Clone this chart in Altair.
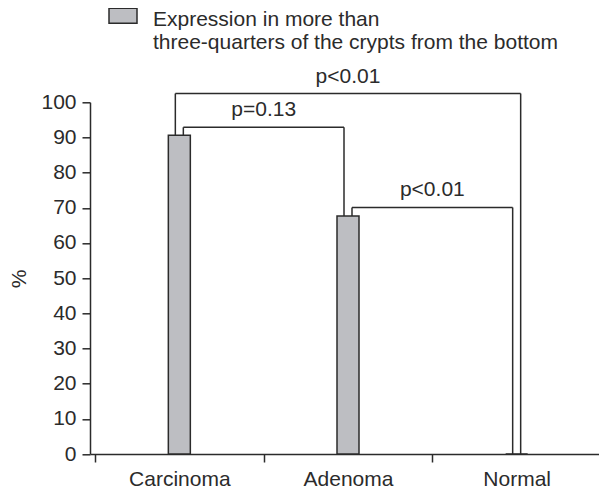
import altair as alt
import pandas as pd

# ---- data ----
categories = ["Carcinoma", "Adenoma", "Normal"]
values = [90.6, 67.7, 0.0]
series_label = "Expression in more than\nthree-quarters of the crypts from the bottom"

bracket_left = ["Carcinoma", "Carcinoma", "Adenoma"]
bracket_right = ["Normal", "Adenoma", "Normal"]
bracket_height = [102.5, 92.9, 70.1]
bracket_text = ["p<0.01", "p=0.13", "p<0.01"]

y_ticks = list(range(0, 101, 10))

# ---- style ----
INK = "#2b2b2b"
GRAY = "#bdbec2"
FONT = "Liberation Sans"
FS = 21
OFF = 4  # pixel offset of bracket legs from the category centre
VIEW_W = 509      # visible plot width (page must fit 591px)
AXIS_W = 516      # full axis length (last boundary tick falls at page edge)

pos = {c: i + 0.5 for i, c in enumerate(categories)}
val = dict(zip(categories, values))

bars_df = pd.DataFrame({
    "cat": categories,
    "pos": [pos[c] for c in categories],
    "value": values,
    "series": [series_label] * len(categories),
})

br_rows, leg_rows = [], []
for l, r, h, t in zip(bracket_left, bracket_right, bracket_height, bracket_text):
    outer = abs(categories.index(r) - categories.index(l)) > 1
    br_rows.append({"l": pos[l], "r": pos[r], "mid": (pos[l] + pos[r]) / 2,
                    "h": h, "text": t, "outer": outer})
    leg_rows.append({"pos": pos[l], "y1": val[l], "y2": h, "side": -1 if outer else 1})
    leg_rows.append({"pos": pos[r], "y1": val[r], "y2": h, "side": 1 if outer else -1})
br_df = pd.DataFrame(br_rows)
leg_df = pd.DataFrame(leg_rows)

x_scale = alt.Scale(domain=[0, len(categories)], range=[0, AXIS_W], nice=False, zero=False)
y_scale = alt.Scale(domain=[0, 100], nice=False)

names_js = "[" + ",".join("'" + c + "'" for c in categories) + "]"
x_vals = sorted(set([i for i in range(len(categories) + 1)] + [p for p in pos.values()]))
x_axis = alt.Axis(
    values=x_vals,
    labelExpr="datum.value % 1 == 0.5 ? " + names_js + "[floor(datum.value)] : ''",
    tickOpacity={"condition": {"test": "datum.value % 1 == 0", "value": 1}, "value": 0},
    tickSize=8, tickWidth=1.5, tickColor=INK,
    domainColor=INK, domainWidth=1.5,
    labelFont=FONT, labelFontSize=FS, labelColor=INK, labelPadding=6,
    labelFlush=False, labelOverlap=False, grid=False, title=None,
)
y_axis = alt.Axis(
    values=y_ticks, tickSize=8, tickWidth=1.5, tickColor=INK,
    domainColor=INK, domainWidth=1.5,
    labelFont=FONT, labelFontSize=FS, labelColor=INK, labelPadding=6,
    labelOverlap=False, grid=False,
    title="%", titleFont=FONT, titleFontSize=FS, titleFontWeight="normal",
    titleColor=INK, titleX=-71, titleY=176, titleAngle=270,
    titleAlign="center", titleBaseline="middle",
)

legend = alt.Legend(
    title=None, orient="none", legendX=18, legendY=-97, padding=0,
    symbolType="M-1,-0.857H1V0.214H-1Z", symbolSize=784,
    symbolStrokeColor=INK, symbolStrokeWidth=1.5, symbolOpacity=1,
    labelFont=FONT, labelFontSize=FS, labelColor=INK, labelLimit=0,
    labelOffset=15, labelExpr="split(datum.label, '\\n')",
)

bars = alt.Chart(bars_df).mark_bar(size=22, stroke=INK, strokeWidth=1.5, opacity=1).encode(
    x=alt.X("pos:Q", scale=x_scale, axis=x_axis),
    y=alt.Y("value:Q", scale=y_scale, axis=y_axis),
    fill=alt.Fill("series:N", scale=alt.Scale(range=[GRAY]), legend=legend),
)

legs_left = alt.Chart(leg_df).transform_filter("datum.side < 0").mark_rule(
    xOffset=-OFF, color=INK, strokeWidth=1.5).encode(
    x=alt.X("pos:Q", scale=x_scale, axis=x_axis),
    y=alt.Y("y1:Q", scale=y_scale, axis=y_axis), y2="y2:Q")
legs_right = alt.Chart(leg_df).transform_filter("datum.side > 0").mark_rule(
    xOffset=OFF, color=INK, strokeWidth=1.5).encode(
    x=alt.X("pos:Q", scale=x_scale, axis=x_axis),
    y=alt.Y("y1:Q", scale=y_scale, axis=y_axis), y2="y2:Q")

tops_outer = alt.Chart(br_df).transform_filter("datum.outer").mark_rule(
    xOffset=-OFF, x2Offset=OFF, color=INK, strokeWidth=1.5).encode(
    x=alt.X("l:Q", scale=x_scale, axis=x_axis), x2="r:Q",
    y=alt.Y("h:Q", scale=y_scale, axis=y_axis))
tops_inner = alt.Chart(br_df).transform_filter("!datum.outer").mark_rule(
    xOffset=OFF, x2Offset=-OFF, color=INK, strokeWidth=1.5).encode(
    x=alt.X("l:Q", scale=x_scale, axis=x_axis), x2="r:Q",
    y=alt.Y("h:Q", scale=y_scale, axis=y_axis))

labels = alt.Chart(br_df).mark_text(
    font=FONT, fontSize=FS, color=INK, baseline="bottom", dy=-7).encode(
    x=alt.X("mid:Q", scale=x_scale, axis=x_axis),
    y=alt.Y("h:Q", scale=y_scale, axis=y_axis), text="text:N")

chart = alt.layer(bars, legs_left, legs_right, tops_outer, tops_inner, labels).properties(
    width=VIEW_W, height=351.7,
    autosize=alt.AutoSizeParams(type="none"),
    padding={"left": 82, "top": 94.3, "right": 0, "bottom": 40},
    background="white",
).configure_view(stroke=None)

chart.save("out.html", embed_options={"renderer": "svg", "actions": False})
